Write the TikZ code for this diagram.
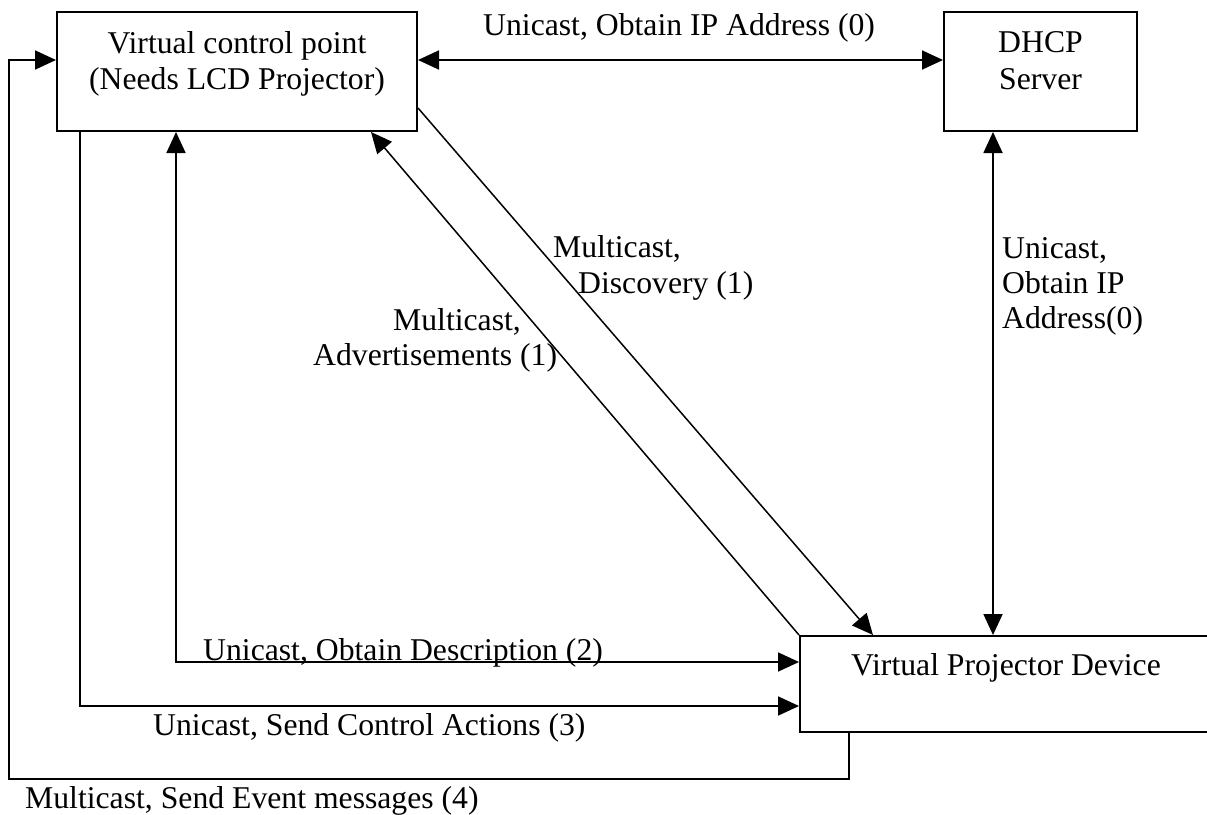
\documentclass[tikz,border=0pt]{standalone}
\usepackage{fontspec}
\setmainfont{Liberation Serif}
\usetikzlibrary{arrows.meta}
\newcommand\diagfont{\fontsize{31.7pt}{35pt}\selectfont}
\begin{document}
\begin{tikzpicture}[x=1pt,y=-1pt,
  every node/.style={font=\diagfont, inner sep=0pt},
  box/.style={draw, line width=2pt, rectangle},
  txt/.style={anchor=base},
  lbl/.style={anchor=base west},
  wire/.style={line width=1.8pt},
  slant/.style={line width=1.5pt},
  tip/.style={-{Triangle[length=21pt,width=19pt]}},
  tips/.style={{Triangle[length=21pt,width=19pt]}-{Triangle[length=21pt,width=19pt]}}
]
\useasboundingbox (0,0) rectangle (1207,814);

% boxes
\node[box, minimum width=360pt, minimum height=119pt] (vcp) at (237,71.5) {};
\node[box, minimum width=193pt, minimum height=119pt] (dhcp) at (1040.5,71.5) {};
\node[box, minimum width=410pt, minimum height=96pt] (vpd) at (1005,684) {};

% box captions
\node[txt] (vcpA) at (237,53) {Virtual control point};
\node[txt] (vcpB) at (237,89) {(Needs LCD Projector)};
\node[txt] (dhA) at (1040.5,52) {DHCP};
\node[txt] (dhB) at (1040.5,89) {Server};
\node[txt] (vpdA) at (1006,675) {Virtual Projector Device};

% routing helpers
\coordinate (xDhcp) at (993,0);
\coordinate (xDisc) at (873,0);
\coordinate (xAdv) at (371,0);
\coordinate (xDesc) at (176,0);
\coordinate (xCtrl) at (80,0);
\coordinate (xEvt) at (849,0);
\coordinate (loopCorner) at (9,779);

% step 0: IP address
\draw[wire, tips] ([yshift=11.5pt]vcp.east) -- ([yshift=11.5pt]dhcp.west);
\draw[wire, tips] (dhcp.south -| xDhcp) -- (vpd.north -| xDhcp);

% step 1: discovery and advertisements
\draw[slant, tip] ([yshift=-36.5pt]vcp.east) -- (vpd.north -| xDisc);
\draw[slant, tip] (vpd.north west) -- (vcp.south -| xAdv);

% step 2: description
\draw[wire, tips] (vcp.south -| xDesc) |- ([yshift=22pt]vpd.west);

% step 3: control actions
\draw[wire, tip] (vcp.south -| xCtrl) |- ([yshift=-22pt]vpd.west);

% step 4: event messages
\draw[wire, tip] (vpd.south -| xEvt) |- (loopCorner) |- ([yshift=11.5pt]vcp.west);

% connector labels
\node[lbl] (l0) at (483,35) {Unicast, Obtain IP Address (0)};
\node[lbl] (l0a) at (1002,258) {Unicast,};
\node[lbl] (l0b) at (1002,293) {Obtain IP};
\node[lbl] (l0c) at (1002,328) {Address(0)};
\node[lbl] (l1a) at (553,257) {Multicast,};
\node[lbl] (l1b) at (578,293) {Discovery (1)};
\node[lbl] (l1c) at (393,330) {Multicast,};
\node[lbl] (l1d) at (313,365) {Advertisements (1)};
\node[lbl] (l2) at (203,660) {Unicast, Obtain Description (2)};
\node[lbl] (l3) at (153,735) {Unicast, Send Control Actions (3)};
\node[lbl] (l4) at (25,808) {Multicast, Send Event messages (4)};
\end{tikzpicture}
\end{document}
